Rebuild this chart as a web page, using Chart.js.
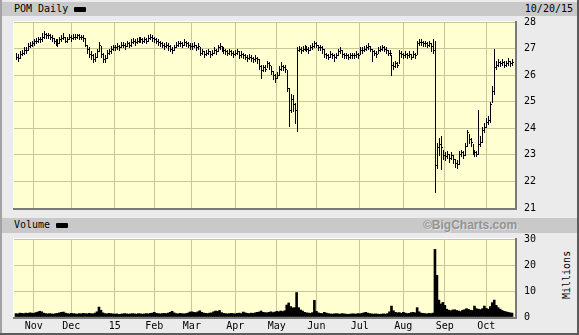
<!DOCTYPE html>
<html>
<head>
<meta charset="utf-8">
<script src="https://cdn.jsdelivr.net/npm/chart.js@4.4.0/dist/chart.umd.min.js"></script>
<style>
  body { margin: 0; }
  #frame { position: relative; width: 579px; height: 335px; background: #ebebeb; overflow: hidden;
           font-family: 'DejaVu Sans Mono', monospace; font-size: 10px; color: #000; }
  .edge { position: absolute; }
  .bar { position: absolute; left: 2px; width: 575px; background: #c9c9c9; }
  .label { position: absolute; white-space: nowrap; line-height: 12px; }
  .swatch { position: absolute; width: 12px; height: 5px; background: #000; border-radius: 1px; }
  canvas { position: absolute; left: 0; top: 0; }
</style>
</head>
<body>
<div id="frame">
  <div class="edge" style="left:0;top:0;width:2px;height:335px;background:#a2a2a2"></div>
  <div class="edge" style="right:0;top:0;width:2px;height:335px;background:#5c5c5c"></div>
  <div class="edge" style="left:0;bottom:0;width:579px;height:2px;background:#5c5c5c"></div>

  <div class="bar" style="top:2px;height:14px"></div>
  <div class="label" style="left:14px;top:3px">POM Daily</div>
  <div class="swatch" style="left:74px;top:7px"></div>
  <div class="label" style="right:6px;top:3px">10/20/15</div>

  <div class="bar" style="top:218px;height:15px"></div>
  <div class="label" style="left:14px;top:219px">Volume</div>
  <div class="swatch" style="left:56px;top:223px"></div>
  <div class="label" style="left:423px;top:219px;font-family:'Liberation Sans',Arial,sans-serif;font-weight:bold;font-size:12px;color:#939393;text-shadow:1px 1px 0 #e2e2e2">©BigCharts.com</div>

  <div class="label" style="left:543px;top:269px;width:48px;text-align:center;transform:rotate(-90deg)">Millions</div>

  <canvas id="priceChart" width="579" height="335"></canvas>
  <canvas id="volumeChart" width="579" height="335"></canvas>
</div>
<script>
Chart.defaults.font.family = 'DejaVu Sans Mono';
Chart.defaults.font.size = 10;
Chart.defaults.color = '#000';
Chart.defaults.animation = false;

// one bar per trading day, 10/21/14 .. 10/20/15
const closes = [
    26.70, 26.65, 26.80, 26.85, 26.95, 26.95, 27.10, 27.15, 27.20, 27.30,
    27.30, 27.35, 27.35, 27.45, 27.55, 27.50, 27.50, 27.45, 27.40, 27.30,
    27.25, 27.20, 27.35, 27.40, 27.45, 27.30, 27.35, 27.45, 27.40, 27.45,
    27.45, 27.50, 27.45, 27.45, 27.40, 27.15, 27.00, 26.80, 26.75, 26.60,
    26.70, 26.90, 27.15, 26.80, 26.60, 26.65, 26.85, 26.90, 27.00, 27.05,
    27.05, 27.10, 27.05, 27.15, 27.15, 27.10, 27.20, 27.15, 27.25, 27.30,
    27.25, 27.30, 27.35, 27.35, 27.30, 27.35, 27.30, 27.40, 27.45, 27.40,
    27.35, 27.30, 27.25, 27.20, 27.15, 27.10, 27.15, 27.10, 27.00, 26.95,
    27.05, 27.15, 27.20, 27.20, 27.15, 27.25, 27.20, 27.15, 27.10, 27.10,
    27.15, 27.05, 27.10, 26.85, 26.90, 26.80, 26.85, 26.90, 26.80, 26.85,
    26.95, 26.90, 27.05, 27.10, 27.00, 26.95, 26.90, 26.85, 26.90, 26.85,
    26.80, 26.85, 26.90, 26.75, 26.80, 26.75, 26.70, 26.65, 26.70, 26.65,
    26.60, 26.65, 26.60, 26.35, 26.20, 26.30, 26.25, 26.45, 26.40, 26.15,
    26.00, 25.90, 26.00, 26.25, 26.35, 26.30, 26.25, 25.50, 24.70, 25.10,
    24.90, 24.70, 26.95, 27.00, 26.95, 27.00, 27.05, 27.00, 26.95, 27.05,
    27.10, 27.20, 27.15, 27.05, 27.05, 27.00, 26.80, 26.75, 26.70, 26.80,
    26.75, 26.70, 26.75, 26.90, 26.95, 26.80, 26.75, 26.75, 26.70, 26.75,
    26.75, 26.75, 26.80, 26.75, 26.95, 26.95, 27.00, 27.05, 27.10, 27.00,
    26.90, 26.85, 26.80, 26.95, 27.00, 27.05, 27.00, 26.95, 26.85, 26.85,
    26.40, 26.35, 26.45, 26.40, 26.85, 26.80, 26.75, 26.80, 26.75, 26.80,
    26.70, 26.80, 26.75, 27.20, 27.25, 27.25, 27.20, 27.20, 27.15, 27.20,
    27.10, 26.95, 22.60, 23.30, 23.40, 23.30, 23.00, 22.95, 23.05, 22.90,
    23.00, 22.85, 22.70, 22.65, 23.05, 23.10, 23.00, 23.35, 23.85, 23.60,
    23.50, 23.15, 23.10, 23.05, 23.40, 23.50, 23.95, 24.05, 24.25, 24.30,
    24.90, 25.40, 26.30, 26.40, 26.50, 26.45, 26.50, 26.40, 26.45, 26.55,
    26.45, 26.50
];

const highs = [
    26.85, 26.80, 26.90, 26.95, 27.05, 27.05, 27.20, 27.25, 27.30, 27.35,
    27.40, 27.45, 27.45, 27.60, 27.65, 27.60, 27.60, 27.55, 27.50, 27.40,
    27.35, 27.35, 27.45, 27.50, 27.60, 27.45, 27.45, 27.55, 27.50, 27.55,
    27.55, 27.55, 27.55, 27.50, 27.50, 27.40, 27.15, 27.05, 26.90, 26.80,
    26.85, 27.00, 27.25, 27.10, 26.85, 26.75, 26.95, 27.00, 27.10, 27.15,
    27.15, 27.20, 27.15, 27.25, 27.25, 27.20, 27.30, 27.25, 27.35, 27.40,
    27.35, 27.40, 27.45, 27.45, 27.40, 27.45, 27.40, 27.50, 27.55, 27.50,
    27.45, 27.40, 27.35, 27.30, 27.25, 27.20, 27.25, 27.20, 27.15, 27.05,
    27.15, 27.25, 27.30, 27.30, 27.25, 27.35, 27.30, 27.25, 27.20, 27.20,
    27.25, 27.15, 27.20, 27.05, 27.00, 26.90, 26.95, 27.00, 26.90, 26.95,
    27.05, 27.00, 27.15, 27.20, 27.10, 27.05, 27.00, 26.95, 27.00, 26.95,
    26.90, 26.95, 27.00, 26.90, 26.90, 26.85, 26.80, 26.75, 26.80, 26.75,
    26.70, 26.75, 26.70, 26.60, 26.40, 26.40, 26.40, 26.55, 26.50, 26.35,
    26.15, 26.05, 26.10, 26.35, 26.50, 26.40, 26.40, 26.20, 25.50, 25.30,
    25.25, 24.95, 27.05, 27.10, 27.05, 27.10, 27.15, 27.10, 27.05, 27.15,
    27.20, 27.30, 27.25, 27.15, 27.15, 27.10, 27.00, 26.85, 26.80, 26.90,
    26.85, 26.80, 26.85, 27.00, 27.05, 26.95, 26.85, 26.85, 26.80, 26.85,
    26.85, 26.85, 26.90, 26.85, 27.05, 27.05, 27.10, 27.15, 27.20, 27.10,
    27.00, 26.95, 26.90, 27.05, 27.10, 27.15, 27.10, 27.05, 26.95, 26.95,
    26.75, 26.50, 26.55, 26.50, 26.95, 26.90, 26.85, 26.90, 26.85, 26.90,
    26.80, 26.90, 26.85, 27.30, 27.35, 27.35, 27.30, 27.30, 27.25, 27.30,
    27.20, 27.35, 27.30, 23.45, 23.65, 23.70, 23.20, 23.10, 23.15, 23.05,
    23.10, 23.00, 22.85, 22.80, 23.15, 23.20, 23.15, 23.45, 23.95, 23.80,
    23.65, 23.40, 23.20, 23.15, 24.70, 23.70, 24.05, 24.20, 24.40, 24.45,
    25.00, 25.60, 26.97, 26.55, 26.60, 26.55, 26.60, 26.55, 26.55, 26.65,
    26.55, 26.60
];

const lows = [
    26.60, 26.55, 26.65, 26.75, 26.80, 26.85, 26.95, 27.05, 27.10, 27.15,
    27.20, 27.25, 27.25, 27.30, 27.40, 27.40, 27.40, 27.35, 27.30, 27.20,
    27.15, 27.10, 27.20, 27.30, 27.35, 27.25, 27.25, 27.35, 27.30, 27.35,
    27.35, 27.40, 27.35, 27.35, 27.30, 27.10, 26.85, 26.70, 26.60, 26.50,
    26.55, 26.70, 26.90, 26.70, 26.50, 26.50, 26.65, 26.80, 26.85, 26.95,
    26.95, 27.00, 26.95, 27.05, 27.05, 27.00, 27.10, 27.05, 27.10, 27.20,
    27.15, 27.20, 27.25, 27.25, 27.20, 27.25, 27.20, 27.30, 27.35, 27.30,
    27.25, 27.20, 27.15, 27.10, 27.05, 27.00, 27.05, 26.95, 26.90, 26.85,
    26.95, 27.05, 27.10, 27.10, 27.05, 27.15, 27.10, 27.05, 27.00, 27.00,
    27.05, 26.95, 27.00, 26.75, 26.80, 26.70, 26.75, 26.80, 26.70, 26.75,
    26.85, 26.80, 26.90, 27.00, 26.90, 26.85, 26.80, 26.75, 26.80, 26.75,
    26.70, 26.75, 26.80, 26.65, 26.70, 26.65, 26.60, 26.55, 26.60, 26.55,
    26.50, 26.55, 26.45, 26.25, 25.90, 26.15, 26.15, 26.30, 26.25, 26.05,
    25.85, 25.75, 25.90, 26.00, 26.20, 26.20, 26.10, 25.40, 24.10, 24.60,
    24.65, 24.20, 23.90, 26.90, 26.85, 26.90, 26.95, 26.90, 26.85, 26.95,
    27.00, 27.05, 27.05, 26.95, 26.95, 26.85, 26.70, 26.65, 26.60, 26.70,
    26.65, 26.55, 26.65, 26.75, 26.85, 26.70, 26.65, 26.65, 26.60, 26.65,
    26.65, 26.65, 26.70, 26.65, 26.80, 26.85, 26.90, 26.95, 27.00, 26.90,
    26.55, 26.75, 26.70, 26.85, 26.90, 26.95, 26.90, 26.85, 26.75, 26.75,
    26.00, 26.25, 26.30, 26.30, 26.45, 26.70, 26.65, 26.70, 26.65, 26.70,
    26.60, 26.70, 26.65, 26.80, 27.15, 27.15, 27.10, 27.10, 27.05, 27.10,
    26.90, 26.85, 21.60, 22.50, 23.00, 22.45, 22.85, 22.80, 22.90, 22.75,
    22.85, 22.70, 22.55, 22.50, 22.65, 22.95, 22.90, 23.00, 23.35, 23.45,
    23.35, 23.05, 22.95, 22.95, 23.05, 23.35, 23.50, 23.85, 24.05, 24.15,
    24.25, 25.00, 25.30, 26.25, 26.35, 26.35, 26.40, 26.30, 26.35, 26.40,
    26.35, 26.40
];

// millions of shares
const volumes = [
    1.3, 1.2, 1.5, 1.4, 1.3, 1.5, 1.4, 1.6, 1.5, 1.4,
    1.7, 1.9, 2.2, 2.0, 1.5, 1.3, 1.2, 1.3, 1.2, 1.1,
    1.3, 1.4, 1.6, 1.8, 1.9, 1.5, 1.3, 1.2, 1.4, 1.3,
    1.2, 1.1, 1.3, 1.2, 1.4, 1.3, 1.2, 1.4, 1.3, 1.2,
    1.5, 2.0, 3.8, 2.6, 1.6, 1.3, 1.2, 1.4, 1.3, 1.2,
    1.1, 1.2, 1.0, 1.1, 1.2, 1.3, 1.2, 1.1, 1.2, 1.3,
    1.2, 1.1, 1.3, 1.2, 1.1, 1.2, 1.3, 1.2, 1.4, 1.5,
    1.8, 1.4, 1.3, 1.2, 1.3, 1.4, 1.3, 1.5, 1.8, 2.2,
    1.6, 1.3, 1.2, 1.4, 1.3, 1.2, 1.3, 1.5, 1.9, 2.0,
    1.8, 1.7, 2.0, 2.4, 1.8, 1.5, 1.4, 1.3, 1.5, 1.6,
    2.0, 2.3, 2.2, 2.5, 1.7, 1.4, 1.3, 1.2, 1.3, 1.4,
    1.3, 1.2, 1.4, 1.5, 1.3, 1.9, 1.6, 1.4, 1.3, 1.5,
    1.4, 1.6, 1.8, 1.9, 2.3, 1.8, 1.7, 1.6, 1.8, 2.0,
    1.7, 1.9, 2.2, 2.0, 2.3, 2.1, 2.4, 4.6, 5.4, 4.0,
    3.5, 3.6, 9.4, 3.6, 2.7, 2.3, 1.8, 1.6, 1.5, 1.4,
    1.7, 6.4, 2.2, 1.6, 1.4, 1.3, 1.8, 1.5, 1.3, 1.2,
    1.1, 1.2, 1.3, 1.2, 1.1, 1.3, 1.2, 1.1, 1.0, 1.1,
    1.2, 1.2, 1.1, 1.3, 1.2, 1.4, 1.6, 1.8, 1.5, 1.3,
    1.2, 1.1, 1.2, 1.1, 1.0, 1.1, 1.2, 1.1, 1.3, 2.0,
    4.2, 2.4, 1.8, 1.6, 1.7, 1.4, 1.8, 1.5, 1.3, 1.4,
    1.7, 1.8, 1.6, 3.6, 2.0, 1.5, 1.4, 1.3, 1.2, 1.4,
    1.3, 1.5, 26.0, 16.0, 6.5, 5.0, 5.6, 4.5, 3.0, 2.6,
    2.4, 2.7, 2.8, 2.5, 2.3, 2.1, 2.6, 2.8, 3.2, 2.9,
    2.6, 2.5, 4.2, 3.2, 3.0, 2.8, 3.2, 4.2, 3.3, 3.0,
    4.0, 5.5, 6.5, 4.5, 3.6, 3.0, 2.5, 2.2, 2.0, 1.8,
    1.6, 1.5
];

// index of first trading day of each month, and its label
const monthStarts = [9, 28, 50, 70, 89, 111, 132, 152, 174, 196, 217, 238];
const monthLabels = ['Nov', 'Dec', '15', 'Feb', 'Mar', 'Apr', 'May', 'Jun', 'Jul', 'Aug', 'Sep', 'Oct'];
const priceTicks = [21, 22, 23, 24, 25, 26, 27, 28];
const volumeTicks = [0, 10, 20, 30];

const GRID = '#c8c896';
const PLOT_BG = '#ffffd2';

const plotFrame = {
    id: 'plotFrame',
    beforeDraw(chart) {
        const { ctx, chartArea: a } = chart;
        ctx.save();
        ctx.fillStyle = PLOT_BG;
        ctx.fillRect(a.left, a.top, a.right - a.left, a.bottom - a.top);
        ctx.restore();
    },
    afterDraw(chart) {
        const { ctx, chartArea: a } = chart;
        ctx.save();
        ctx.fillStyle = '#ffffff';
        ctx.fillRect(a.left - 1, a.top - 1, a.right - a.left + 1, 1);
        ctx.fillRect(a.left - 1, a.top - 1, 1, a.bottom - a.top + 1);
        ctx.fillStyle = '#7a7a7a';
        ctx.fillRect(a.right, a.top - 1, 2, a.bottom - a.top + 3);
        ctx.fillRect(a.left - 1, a.bottom, a.right - a.left + 3, 2);
        ctx.restore();
    }
};

const ohlcBars = {
    id: 'ohlcBars',
    afterDatasetsDraw(chart) {
        const { ctx, scales: { x, y } } = chart;
        ctx.save();
        ctx.fillStyle = '#000';
        for (let i = 0; i < closes.length; i++) {
            const col = Math.round(x.getPixelForValue(i));
            const top = Math.round(y.getPixelForValue(highs[i]));
            const bottom = Math.round(y.getPixelForValue(lows[i]));
            ctx.fillRect(col, top, 1, bottom - top + 1);
            const row = Math.round(y.getPixelForValue(closes[i]));
            ctx.fillRect(col + 1, row, 1, 1);
        }
        ctx.restore();
    }
};

function monthAxis(showLabels) {
    return {
        type: 'linear',
        min: -1,
        max: 252.5,
        offset: false,
        afterBuildTicks: scale => { scale.ticks = monthStarts.map(v => ({ value: v })); },
        afterFit: scale => { scale.height = showLabels ? 18 : 0; },
        grid: { color: GRID, drawTicks: false, offset: false },
        border: { display: false },
        ticks: {
            display: showLabels,
            padding: 3,
            maxRotation: 0,
            autoSkip: false,
            callback: (value, index) => monthLabels[index]
        }
    };
}

function valueAxis(min, max, tickValues) {
    return {
        position: 'right',
        min,
        max,
        afterBuildTicks: scale => { scale.ticks = tickValues.map(v => ({ value: v })); },
        afterFit: scale => { scale.width = 64; },
        grid: { color: GRID, drawTicks: false },
        border: { display: false },
        ticks: { padding: 9 }
    };
}

new Chart(document.getElementById('priceChart'), {
    type: 'line',
    data: {
        datasets: [{
            label: 'POM Daily',
            data: closes.map((c, i) => ({ x: i, y: c })),
            showLine: false,
            pointRadius: 0
        }]
    },
    options: {
        responsive: false,
        devicePixelRatio: 1,
        layout: { padding: { left: 14, top: 22, right: 0, bottom: 127 } },
        plugins: { legend: { display: false }, tooltip: { enabled: false } },
        scales: {
            x: monthAxis(false),
            y: valueAxis(21, 28, priceTicks)
        }
    },
    plugins: [plotFrame, ohlcBars]
});

new Chart(document.getElementById('volumeChart'), {
    type: 'bar',
    data: {
        datasets: [{
            label: 'Volume',
            data: volumes.map((v, i) => ({ x: i, y: v })),
            backgroundColor: '#000',
            borderWidth: 0,
            barPercentage: 1,
            categoryPercentage: 1
        }]
    },
    options: {
        responsive: false,
        devicePixelRatio: 1,
        layout: { padding: { left: 14, top: 239, right: 0, bottom: 0 } },
        plugins: { legend: { display: false }, tooltip: { enabled: false } },
        scales: {
            x: monthAxis(true),
            y: valueAxis(0, 30, volumeTicks)
        }
    },
    plugins: [plotFrame]
});
</script>
</body>
</html>
